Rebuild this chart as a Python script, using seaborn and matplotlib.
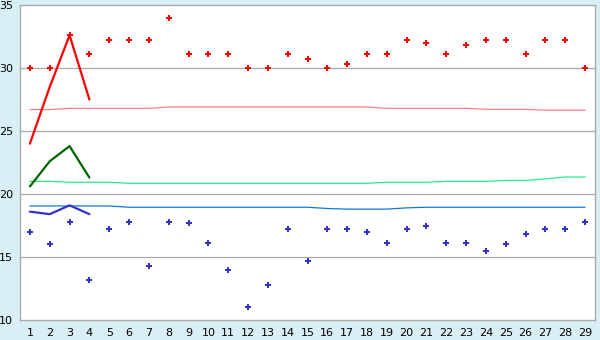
import numpy as np
import pandas as pd
import matplotlib
matplotlib.use("Agg")
import matplotlib.pyplot as plt
import seaborn as sns

days = list(range(1, 30))
day_labels = [str(d) for d in days]

high_temps = [30.0, 30.0, 32.6, 31.1, 32.2, 32.2, 32.2, 34.0, 31.1, 31.1,
              31.1, 30.0, 30.0, 31.1, 30.7, 30.0, 30.3, 31.1, 31.1, 32.2,
              32.0, 31.1, 31.8, 32.2, 32.2, 31.1, 32.2, 32.2, 30.0]
low_temps = [17.0, 16.0, 17.8, 13.2, 17.2, 17.8, 14.3, 17.8, 17.7, 16.1,
             14.0, 11.0, 12.8, 17.2, 14.7, 17.2, 17.2, 17.0, 16.1, 17.2,
             17.5, 16.1, 16.1, 15.5, 16.0, 16.8, 17.2, 17.2, 17.8]

fc_days = [1, 2, 3, 4]
fc_high = [24.0, 28.5, 32.6, 27.5]
fc_mean = [20.6, 22.6, 23.8, 21.3]
fc_low = [18.6, 18.4, 19.1, 18.4]

avg_high = [26.7, 26.7, 26.8, 26.8, 26.8, 26.8, 26.8, 26.9, 26.9, 26.9,
            26.9, 26.9, 26.9, 26.9, 26.9, 26.9, 26.9, 26.9, 26.8, 26.8,
            26.8, 26.8, 26.8, 26.72, 26.72, 26.72, 26.65, 26.65, 26.65]
avg_mean = [21.0, 21.0, 20.93, 20.93, 20.93, 20.85, 20.85, 20.85, 20.85, 20.85,
            20.85, 20.85, 20.85, 20.85, 20.85, 20.85, 20.85, 20.85, 20.93, 20.93,
            20.93, 21.0, 21.0, 21.0, 21.08, 21.08, 21.2, 21.35, 21.35]
avg_low = [19.05, 19.05, 19.05, 19.05, 19.05, 18.95, 18.95, 18.95, 18.95, 18.95,
           18.95, 18.95, 18.95, 18.95, 18.95, 18.85, 18.8, 18.8, 18.8, 18.9,
           18.95, 18.95, 18.95, 18.95, 18.95, 18.95, 18.95, 18.95, 18.95]

y_ticks = [10, 15, 20, 25, 30, 35]

sns.set_style("white")
plt.rcParams['font.family'] = ['DejaVu Sans']

bg = "#d9eff6"
fig = plt.figure(figsize=(6, 3.4), dpi=100, facecolor=bg)
ax = fig.add_axes([20/600, 20/340, 575/600, 315/340])
ax.set_facecolor("white")

df_avg = pd.DataFrame({"day": days, "hi": avg_high, "mid": avg_mean, "lo": avg_low})
sns.lineplot(data=df_avg, x="day", y="hi", ax=ax, color="#ff8080", lw=0.9)
sns.lineplot(data=df_avg, x="day", y="mid", ax=ax, color="#22ee88", lw=0.9)
sns.lineplot(data=df_avg, x="day", y="lo", ax=ax, color="#1177dd", lw=0.9)

df_fc = pd.DataFrame({"day": fc_days, "hi": fc_high, "mid": fc_mean, "lo": fc_low})
sns.lineplot(data=df_fc, x="day", y="hi", ax=ax, color="#ff0000", lw=1.6)
sns.lineplot(data=df_fc, x="day", y="mid", ax=ax, color="#006600", lw=1.6)
sns.lineplot(data=df_fc, x="day", y="lo", ax=ax, color="#3333cc", lw=1.6)

df_obs = pd.DataFrame({"day": days, "hi": high_temps, "lo": low_temps})
sns.scatterplot(data=df_obs, x="day", y="hi", ax=ax, color="#ff0000", marker="P",
                s=20, linewidth=0, zorder=5)
sns.scatterplot(data=df_obs, x="day", y="lo", ax=ax, color="#3333cc", marker="P",
                s=20, linewidth=0, zorder=5)

ax.set_xlim(0.5, 29.5)
ax.set_ylim(10, 35)
ax.set_xticks(days)
ax.set_xticklabels(day_labels)
ax.set_yticks(y_ticks)
ax.set_yticklabels([str(t) for t in y_ticks])
ax.set_xlabel("")
ax.set_ylabel("")
for y in y_ticks[1:-1]:
    ax.axhline(y, color="#aaaaaa", lw=0.9, zorder=0)
for s in ax.spines.values():
    s.set_visible(True)
    s.set_color("#aaaaaa")
    s.set_linewidth(1.0)
ax.tick_params(axis="both", which="both", direction="out", length=4, width=0.8,
               color="black", labelsize=8, pad=2, labelcolor="black")
ax.tick_params(axis="y", length=3)
if ax.get_legend():
    ax.get_legend().remove()

fig.savefig("out.png", dpi=100, facecolor=bg)
